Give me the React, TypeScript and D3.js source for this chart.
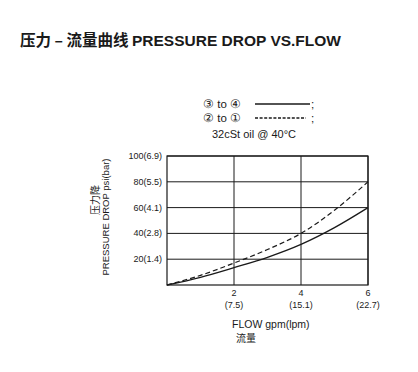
import React from 'react';
import * as d3 from 'd3';

const flowGpm = [0, 1, 2, 3, 4, 5, 6];
const drop3to4 = [0, 6, 13.5, 21.5, 31.5, 44.5, 60];
const drop2to1 = [0, 7.5, 17, 27.5, 40, 58, 80];

const xTicks = [2, 4, 6];
const xTickLpm = ['(7.5)', '(15.1)', '(22.7)'];
const yTicks = [20, 40, 60, 80, 100];
const yTickBar = ['(1.4)', '(2.8)', '(4.1)', '(5.5)', '(6.9)'];

const W = 418;
const H = 372;
const plot = { left: 167, right: 368, top: 156, bottom: 285 };
const font = '"Liberation Sans", Arial, sans-serif';
const cjk = '"Noto Sans CJK SC", sans-serif';
const ink = '#1a1a1a';

const App: React.FC = () => {
  const x = d3.scaleLinear().domain([0, 6]).range([plot.left, plot.right]);
  const y = d3.scaleLinear().domain([0, 100]).range([plot.bottom, plot.top]);

  const line = d3
    .line<number>()
    .x((_, i) => x(flowGpm[i]))
    .y((d) => y(d))
    .curve(d3.curveMonotoneX);

  return (
    <svg
      width={W}
      height={H}
      style={{ position: 'absolute', left: 0, top: 0, background: '#fff' }}
      fontFamily={font}
    >
      <text x={20} y={46} fontSize={15.5} fill={ink} fontWeight="bold">
        <tspan fontFamily={cjk}>压力 – 流量曲线 </tspan>
        <tspan>PRESSURE DROP VS.FLOW</tspan>
      </text>

      {/* legend */}
      <g fontSize={11.5} fill={ink}>
        <text x={203} y={108}>③ to ④</text>
        <line x1={255} x2={310} y1={104} y2={104} stroke={ink} strokeWidth={1.6} />
        <text x={311} y={108}>;</text>
        <text x={203} y={122}>② to ①</text>
        <line x1={255} x2={306} y1={118} y2={118} stroke={ink} strokeWidth={1.3} strokeDasharray="3,1.6" />
        <text x={311} y={122}>;</text>
        <text x={212} y={138} fontSize={11}>32cSt oil @ 40°C</text>
      </g>

      {/* grid */}
      {yTicks.map((t) => (
        <line key={'gy' + t} x1={plot.left} x2={plot.right} y1={y(t)} y2={y(t)} stroke={ink} strokeWidth={1} />
      ))}
      {xTicks.map((t) => (
        <line key={'gx' + t} x1={x(t)} x2={x(t)} y1={plot.top} y2={plot.bottom} stroke={ink} strokeWidth={1} />
      ))}
      <rect
        x={plot.left}
        y={plot.top}
        width={plot.right - plot.left}
        height={plot.bottom - plot.top}
        fill="none"
        stroke={ink}
        strokeWidth={1.2}
      />

      {/* y tick labels */}
      <g fontSize={9} fill={ink} textAnchor="end">
        {yTicks.map((t, i) => (
          <text key={'ty' + t} x={162} y={y(t) + 3}>
            {t}
            {yTickBar[i]}
          </text>
        ))}
      </g>

      {/* x tick labels */}
      <g fontSize={9} fill={ink} textAnchor="middle">
        {xTicks.map((t, i) => (
          <g key={'tx' + t}>
            <text x={x(t)} y={296}>{t}</text>
            <text x={x(t)} y={308}>{xTickLpm[i]}</text>
          </g>
        ))}
      </g>

      {/* axis titles */}
      <text x={232} y={328} fontSize={10.5} fill={ink}>FLOW gpm(lpm)</text>
      <text x={236} y={342} fontSize={10} fill={ink} fontFamily={cjk}>流量</text>

      <text
        transform="translate(109,217) rotate(-90)"
        fontSize={9.5}
        fill={ink}
        textAnchor="middle"
      >
        PRESSURE DROP psi(bar)
      </text>
      <text
        transform="translate(99,200) rotate(-90)"
        fontSize={10}
        fill={ink}
        textAnchor="middle"
        fontFamily={cjk}
      >
        压力降
      </text>

      {/* curves */}
      <path d={line(drop3to4) ?? ''} fill="none" stroke={ink} strokeWidth={1.3} />
      <path d={line(drop2to1) ?? ''} fill="none" stroke={ink} strokeWidth={1.2} strokeDasharray="5,3" />
    </svg>
  );
};

export default App;
